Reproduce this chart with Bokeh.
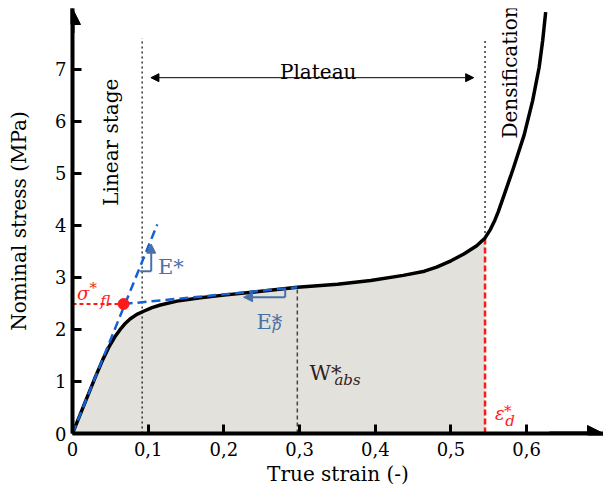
import numpy as np
from bokeh.plotting import figure
from bokeh.models import Range1d, Arrow, NormalHead, Label, FixedTicker
from bokeh.embed import file_html
from bokeh.resources import INLINE

# ---------------- data ----------------
strain = [0, 0.015, 0.030, 0.040, 0.048, 0.057, 0.063, 0.070, 0.076, 0.085,
          0.094, 0.105, 0.116, 0.138, 0.169, 0.20, 0.24, 0.297, 0.35, 0.394,
          0.437, 0.465, 0.481, 0.50, 0.517, 0.534, 0.545, 0.552, 0.558, 0.5624,
          0.572, 0.5822, 0.5967, 0.6079, 0.6165, 0.6212, 0.6251]
stress = [0, 0.54, 1.08, 1.42, 1.66, 1.88, 2.00, 2.12, 2.20, 2.29,
          2.35, 2.42, 2.47, 2.545, 2.61, 2.66, 2.72, 2.81, 2.87, 2.94,
          3.04, 3.12, 3.20, 3.32, 3.45, 3.61, 3.76, 3.92, 4.10, 4.26,
          4.66, 5.09, 5.74, 6.40, 7.04, 7.56, 8.10]

x_ticks = [0, 0.1, 0.2, 0.3, 0.4, 0.5, 0.6]
x_tick_labels = ["0", "0,1", "0,2", "0,3", "0,4", "0,5", "0,6"]
y_ticks = [0, 1, 2, 3, 4, 5, 6, 7]
y_tick_labels = ["0", "1", "2", "3", "4", "5", "6", "7"]

eps_linear = 0.092      # end of linear stage
eps_mid = 0.297         # E_p* / W_abs* marker
eps_d = 0.545           # densification strain
sigma_fl_eps = 0.0675   # strain at sigma_fl*
sigma_fl = 2.49         # plastic collapse stress
E_line_x = [0, 0.112]
E_line_y = [0, 4.02]
Ep_line_x = [0.0675, 0.297]
Ep_line_y = [2.49, 2.81]
guide_top = 7.6
plateau_y = 6.84
plateau_x = [0.1036, 0.53]

SERIF = "DejaVu Serif"
RED = "#ff1a1a"
BLUE = "#1560d4"
STEEL = "#4a70a8"
FILL = "#e2e1db"

x_max, y_max = 0.7015, 8.17

p = figure(width=603, height=492, x_range=Range1d(0, x_max), y_range=Range1d(0, y_max),
           output_backend="svg", toolbar_location=None,
           min_border_left=72, min_border_right=0, min_border_top=8, min_border_bottom=59)
p.outline_line_color = None
p.grid.visible = False

for ax in (p.xaxis[0], p.yaxis[0]):
    ax.axis_line_width = 4
    ax.major_tick_line_width = 3
    ax.major_tick_in = 9
    ax.major_tick_out = 0
    ax.minor_tick_line_color = None
    ax.major_label_text_font = SERIF
    ax.major_label_text_font_size = "18px"
    ax.major_label_text_color = "black"
    ax.axis_label_text_font = SERIF
    ax.axis_label_text_font_size = "20px"
    ax.axis_label_text_font_style = "normal"
    ax.axis_label_text_color = "black"

p.xaxis.ticker = FixedTicker(ticks=x_ticks)
p.xaxis.major_label_overrides = dict(zip(x_ticks, x_tick_labels))
p.yaxis.ticker = FixedTicker(ticks=y_ticks)
p.yaxis.major_label_overrides = dict(zip(y_ticks, y_tick_labels))
p.xaxis.axis_label = "True strain (-)"
p.yaxis.axis_label = "Nominal stress (MPa)"
p.xaxis.major_label_standoff = 8
p.xaxis.axis_label_standoff = 3
p.yaxis.major_label_standoff = 6
p.yaxis.axis_label_standoff = 21

# axis arrow heads
p.add_layout(Arrow(end=NormalHead(size=16, fill_color="black", line_color="black", line_width=1),
                   x_start=0.63, y_start=0, x_end=x_max, y_end=0, line_width=4))
p.add_layout(Arrow(end=NormalHead(size=16, fill_color="black", line_color="black", line_width=1),
                   x_start=0, y_start=7.7, x_end=0, y_end=y_max, line_width=4))

# absorbed energy area
s_arr = np.array(strain)
t_arr = np.array(stress)
mask = s_arr <= eps_d + 1e-9
p.varea(x=s_arr[mask], y1=np.zeros(mask.sum()), y2=t_arr[mask], fill_color=FILL)

sig_d = float(np.interp(eps_d, s_arr, t_arr))
sig_mid = float(np.interp(eps_mid, s_arr, t_arr))

# guide lines
p.line([eps_linear, eps_linear], [0, guide_top], line_color="black", line_width=1.2, line_dash="2 3")
p.line([eps_d, eps_d], [sig_d, guide_top], line_color="black", line_width=1.2, line_dash="2 3")
p.line([eps_mid, eps_mid], [0, sig_mid], line_color="#444444", line_width=1.5, line_dash="4 3")
p.line([eps_d, eps_d], [0, sig_d], line_color=RED, line_width=2.5, line_dash="6 3")

# curve
p.line(strain, stress, line_color="black", line_width=3.5, line_join="round")

# moduli lines
p.line(E_line_x, E_line_y, line_color=BLUE, line_width=2.5, line_dash="9 5")
p.line(Ep_line_x, Ep_line_y, line_color=BLUE, line_width=2.5, line_dash="9 5")

# sigma_fl
p.line([0, sigma_fl_eps], [sigma_fl, sigma_fl], line_color=RED, line_width=2, line_dash="4 3")
p.scatter([sigma_fl_eps], [sigma_fl], size=11, fill_color=RED, line_color=RED)

# slope markers
p.line([0.0894, 0.104], [3.12, 3.12], line_color=STEEL, line_width=2)
p.add_layout(Arrow(end=NormalHead(size=9, fill_color=STEEL, line_color=STEEL, line_width=1),
                   x_start=0.104, y_start=3.12, x_end=0.104, y_end=3.64,
                   line_color=STEEL, line_width=2))
p.line([0.281, 0.281], [2.78, 2.62], line_color=STEEL, line_width=2)
p.add_layout(Arrow(end=NormalHead(size=9, fill_color=STEEL, line_color=STEEL, line_width=1),
                   x_start=0.281, y_start=2.62, x_end=0.226, y_end=2.62,
                   line_color=STEEL, line_width=2))

# plateau arrow
p.add_layout(Arrow(start=NormalHead(size=8, fill_color="black", line_color="black", line_width=1),
                   end=NormalHead(size=8, fill_color="black", line_color="black", line_width=1),
                   x_start=plateau_x[0], y_start=plateau_y, x_end=plateau_x[1], y_end=plateau_y,
                   line_width=1))


def lab(x, y, text, size, color="black", style="normal", align="left", baseline="alphabetic", angle=0):
    p.add_layout(Label(x=x, y=y, text=text, text_font=SERIF, text_font_size=size,
                       text_color=color, text_font_style=style, text_align=align,
                       text_baseline=baseline, angle=angle))


lab(0.3246, 6.94, "Plateau", "20px", align="center")
lab(0.0512, 5.6, "Linear stage", "20px", align="center", baseline="middle", angle=np.pi / 2)
lab(0.578, 6.95, "Densification", "20px", align="center", baseline="middle", angle=np.pi / 2)

# sigma*_fl
lab(0.006, 2.69, "σ", "18px", RED, "italic")
lab(0.0225, 2.80, "*", "15px", RED)
lab(0.0365, 2.54, "fl", "15px", RED, "italic")
# E*
lab(0.113, 3.20, "E*", "21px", STEEL)
# E*_p
lab(0.243, 2.14, "E*", "21px", STEEL)
lab(0.263, 2.077, "p", "15px", STEEL, "italic")
# W*_abs
lab(0.313, 1.16, "W*", "21px", "#331c1c")
lab(0.346, 1.02, "abs", "15px", "#331c1c", "italic")
# eps*_d
lab(0.558, 0.39, "ε", "18px", RED, "italic")
lab(0.570, 0.43, "*", "15px", RED)
lab(0.5716, 0.237, "d", "15px", RED, "italic")

open("out.html", "w").write(file_html(p, INLINE))
